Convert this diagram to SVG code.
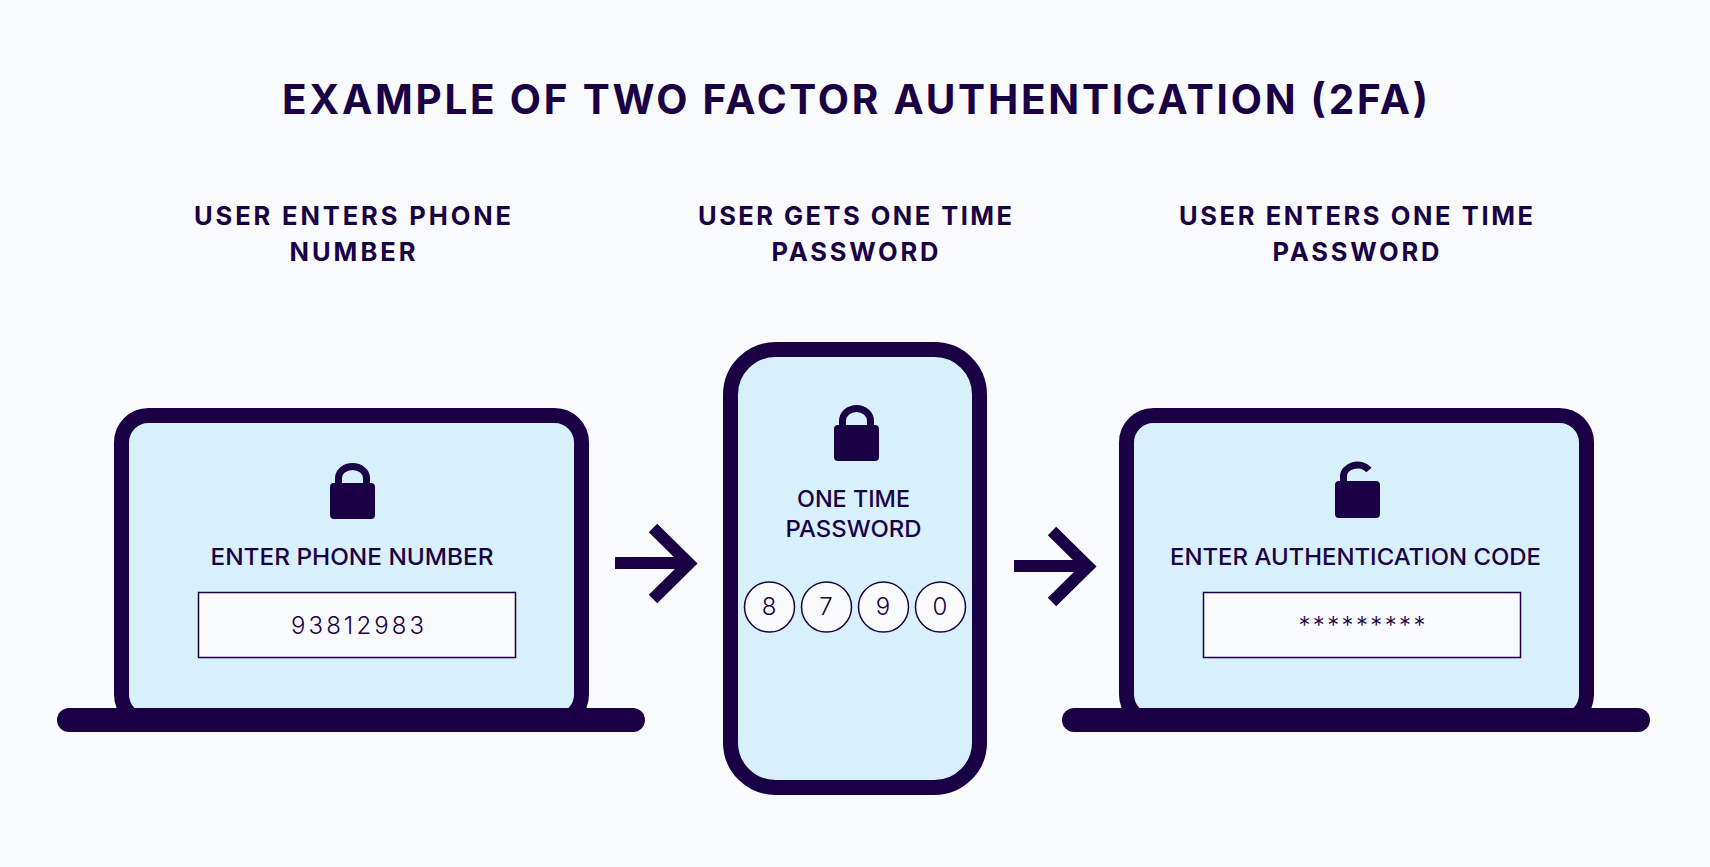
<svg xmlns="http://www.w3.org/2000/svg" width="1710" height="867" viewBox="0 0 1710 867">
<style>
text{font-family:Inter,"Noto Sans","Liberation Sans",sans-serif;fill:#1a0045;text-anchor:middle}
.title{font-size:40.500px;font-weight:700}
.head{font-size:25.500px;font-weight:700}
.lab{font-size:23px;font-weight:500}
.val{font-size:24px;font-weight:350}
.dig{font-size:24px;font-weight:350}
.screen{fill:#d8f0fb;stroke:#1a0045;stroke-width:15}
.bar,.ic{fill:#1a0045}
.box{fill:#f8fafc;stroke:#1a0045;stroke-width:1.5}
.sh{fill:none;stroke:#1a0045;stroke-width:7}
.arr{fill:none;stroke:#1a0045;stroke-width:12}
</style>
<rect width="1710" height="867" fill="#f8fafc"/>
<g id="titles">
<text class="title" x="855" y="114" textLength="1146" lengthAdjust="spacing">EXAMPLE OF TWO FACTOR AUTHENTICATION (2FA)</text>
<text class="head" x="352.500" y="225" textLength="317" lengthAdjust="spacing">USER ENTERS PHONE</text>
<text class="head" x="352.500" y="261" textLength="126" lengthAdjust="spacing">NUMBER</text>
<text class="head" x="855" y="225" textLength="314" lengthAdjust="spacing">USER GETS ONE TIME</text>
<text class="head" x="855" y="261" textLength="167" lengthAdjust="spacing">PASSWORD</text>
<text class="head" x="1356" y="225" textLength="354" lengthAdjust="spacing">USER ENTERS ONE TIME</text>
<text class="head" x="1356" y="261" textLength="167" lengthAdjust="spacing">PASSWORD</text>
</g>
<g id="laptop-1">
<rect class="screen" x="121.500" y="415.500" width="460" height="306" rx="27"/>
<rect class="bar" x="57" y="708" width="588" height="24" rx="12"/>
<path class="sh" d="M338.500 485V478a14 11.500 0 0 1 28 0V485"/>
<rect class="ic" x="330" y="483" width="45" height="36" rx="4"/>
<text class="lab" x="352" y="565" textLength="283" lengthAdjust="spacingAndGlyphs">ENTER PHONE NUMBER</text>
<rect class="box" x="198.500" y="592.500" width="317" height="65"/>
<text class="val" x="357.500" y="634" textLength="133" lengthAdjust="spacing">93812983</text>
</g>
<g id="phone">
<rect class="screen" x="730.500" y="349.500" width="249" height="438" rx="45"/>
<path class="sh" d="M842.500 428V421a14 12.500 0 0 1 28 0V428"/>
<rect class="ic" x="834" y="425" width="45" height="36" rx="4"/>
<text class="lab" x="853.500" y="507" textLength="113" lengthAdjust="spacingAndGlyphs">ONE TIME</text>
<text class="lab" x="853.500" y="537" textLength="136" lengthAdjust="spacingAndGlyphs">PASSWORD</text>
<g class="box"><circle cx="769.500" cy="607" r="25"/><circle cx="826.500" cy="607" r="25"/><circle cx="883.500" cy="607" r="25"/><circle cx="940.500" cy="607" r="25"/></g>
<text class="dig" x="769" y="615">8</text><text class="dig" x="826" y="615">7</text><text class="dig" x="883" y="615">9</text><text class="dig" x="940" y="615">0</text>
</g>
<g id="laptop-2">
<rect class="screen" x="1126.500" y="415.500" width="460" height="306" rx="27"/>
<rect class="bar" x="1062" y="708" width="588" height="24" rx="12"/>
<path class="sh" d="M1343.500 484V477a14 11.500 0 0 1 25.500 -7"/>
<rect class="ic" x="1335" y="481" width="45" height="37" rx="4"/>
<text class="lab" x="1355.500" y="565" textLength="371" lengthAdjust="spacingAndGlyphs">ENTER AUTHENTICATION CODE</text>
<rect class="box" x="1203.500" y="592.500" width="317" height="65"/>
<text class="val" x="1362" y="634" textLength="127" lengthAdjust="spacing">*********</text>
</g>
<g id="connectors">
<path class="arr" d="M615 563H689M653 528L689 563.500L653 599"/>
<path class="arr" d="M1014 566H1088M1052 531L1088 566.500L1052 602"/>
</g>
</svg>
